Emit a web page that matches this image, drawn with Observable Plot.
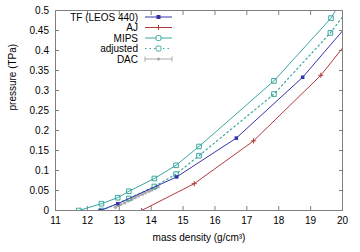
<!DOCTYPE html>
<html><head><meta charset="utf-8">
<script src="https://cdn.jsdelivr.net/npm/d3@7"></script>
<script src="https://cdn.jsdelivr.net/npm/@observablehq/plot@0.6"></script>
<style>
html,body{margin:0;padding:0;background:#fff;}
#wrap{position:relative;width:360px;height:252px;}
#wrap svg{display:block;}
#legend{position:absolute;left:0;top:0;}
</style></head><body><div id="wrap"></div>
<script>
const seriesNames = ["TF (LEOS 440)", "AJ", "MIPS", "adjusted", "DAC"];
const seriesColors = ["#3434a8", "#b03a3a", "#3aa8a0", "#3aa8a0", "#aaaaaa"];

const tfX = [12.4, 12.95, 14.8, 16.67, 18.75, 20.0];
const tfY = [0, 0.017, 0.084, 0.181, 0.333, 0.449];

const ajX = [13.7, 15.35, 17.21, 19.32, 20.0];
const ajY = [0, 0.067, 0.174, 0.338, 0.406];

const mipsX = [11.73, 12.44, 12.95, 13.3, 14.1, 14.78, 15.5, 17.85, 19.64, 20.0];
const mipsY = [0, 0.017, 0.032, 0.048, 0.080, 0.113, 0.160, 0.324, 0.481, 0.53];

const adjX = [12.45, 13.3, 14.1, 14.78, 15.5, 17.85, 19.62, 20.0];
const adjY = [0, 0.030, 0.060, 0.091, 0.137, 0.291, 0.444, 0.484];

const dacX = [12.88, 12.97, 13.05, 13.17, 13.28, 13.4, 13.5, 13.6, 13.72, 13.82, 13.93, 14.02, 14.12, 14.22];
const dacY = [0.008, 0.012, 0.015, 0.019, 0.024, 0.028, 0.032, 0.036, 0.040, 0.044, 0.048, 0.051, 0.055, 0.059];
const dacErr = [0.05, 0.05, 0.05, 0.05, 0.05, 0.05, 0.05, 0.05, 0.05, 0.05, 0.05, 0.05, 0.05, 0.05];

const xTicks = [11, 12, 13, 14, 15, 16, 17, 18, 19, 20];
const yTicks = [0, 0.05, 0.1, 0.15, 0.2, 0.25, 0.3, 0.35, 0.4, 0.45, 0.5];
const xTitle = "mass density (g/cm³)";
const yTitle = "pressure (TPa)";

const rows = (xs, ys) => xs.map((x, i) => ({x, y: ys[i]}));
const tf = rows(tfX, tfY), aj = rows(ajX, ajY), mips = rows(mipsX, mipsY), adj = rows(adjX, adjY);
const dac = dacX.map((x, i) => ({x, y: dacY[i], e: dacErr[i]}));
// markers are not drawn on the border (gnuplot clips them)
const inner = d => d.x < 20;

const font = "'Liberation Sans', Arial, sans-serif";
const axisGray = "#808080";

const plot = Plot.plot({
  width: 360, height: 252,
  marginLeft: 55, marginRight: 18, marginTop: 10, marginBottom: 42,
  style: {fontFamily: font, fontSize: "10px", background: "#fff", color: "#000"},
  x: {domain: [11, 20]},
  y: {domain: [0, 0.5]},
  marks: [
    // tick labels
    Plot.text(xTicks, {x: d => d, frameAnchor: "bottom", lineAnchor: "middle", dy: 10, fontSize: 10, fill: "#000"}),
    Plot.text(yTicks, {y: d => d, text: d => String(d), frameAnchor: "left", textAnchor: "end", dx: -6.5, fontSize: 10, fill: "#000"}),
    // inward ticks on all four sides
    Plot.axisX(xTicks, {anchor: "bottom", tickSize: -4, tickFormat: () => "", stroke: axisGray, label: null}),
    Plot.axisX(xTicks, {anchor: "top", tickSize: -4, tickFormat: () => "", stroke: axisGray, label: null}),
    Plot.axisY(yTicks, {anchor: "left", tickSize: -4, tickFormat: () => "", stroke: axisGray, label: null}),
    Plot.axisY(yTicks, {anchor: "right", tickSize: -4, tickFormat: () => "", stroke: axisGray, label: null}),
    Plot.ruleY(dac, {y: "y", x1: d => d.x - d.e, x2: d => d.x + d.e, stroke: seriesColors[4], strokeWidth: 1}),
    Plot.line(dac, {x: "x", y: "y", stroke: seriesColors[4], strokeWidth: 1}),
    Plot.dot(dac, {x: "x", y: "y", r: 1.6, fill: seriesColors[4]}),
    Plot.line(aj, {x: "x", y: "y", stroke: seriesColors[1], strokeWidth: 1, clip: true}),
    Plot.dot(aj, {filter: inner, x: "x", y: "y", symbol: "plus", r: 1.8, stroke: seriesColors[1], strokeWidth: 1, clip: true}),
    Plot.line(adj, {x: "x", y: "y", stroke: seriesColors[3], strokeWidth: 1.2, strokeDasharray: "1.5,3", clip: true}),
    Plot.dot(adj, {filter: inner, x: "x", y: "y", symbol: "square", r: 2.6, stroke: seriesColors[3], fill: "none", strokeWidth: 1, clip: true}),
    Plot.line(mips, {x: "x", y: "y", stroke: seriesColors[2], strokeWidth: 1, clip: true}),
    Plot.dot(mips, {filter: inner, x: "x", y: "y", symbol: "square", r: 2.6, stroke: seriesColors[2], fill: "none", strokeWidth: 1, clip: true}),
    Plot.line(tf, {x: "x", y: "y", stroke: seriesColors[0], strokeWidth: 1, clip: true}),
    Plot.dot(tf, {filter: inner, x: "x", y: "y", symbol: "square", r: 2.0, fill: seriesColors[0], clip: true}),
    Plot.frame({stroke: axisGray, strokeWidth: 1}),
    Plot.text([xTitle], {frameAnchor: "bottom", lineAnchor: "middle", dy: 27, fontSize: 10, fill: "#000"}),
    Plot.text([yTitle], {frameAnchor: "left", rotate: -90, dx: -43, fontSize: 10, fill: "#000"})
  ]
});

const wrap = document.getElementById("wrap");
wrap.appendChild(plot);

// legend (gnuplot-style, inside plot, top-left)
const leg = d3.select(wrap).append("svg").attr("id", "legend")
  .attr("width", 360).attr("height", 252)
  .style("font-family", font).style("font-size", "10px");
seriesNames.forEach((name, i) => {
  const cy = 17 + i * 10.5;
  const c = seriesColors[i];
  const g = leg.append("g");
  g.append("text").attr("x", 138).attr("y", cy).attr("dy", "0.35em")
    .attr("text-anchor", "end").attr("fill", "#000").text(name);
  g.append("line").attr("x1", 145).attr("x2", 172).attr("y1", cy).attr("y2", cy)
    .attr("stroke", c).attr("stroke-width", i === 3 ? 1.2 : 1)
    .attr("stroke-dasharray", i === 3 ? "1.5,3" : null);
  const mx = 158.5;
  if (i === 0) {
    g.append("rect").attr("x", mx - 2).attr("y", cy - 2).attr("width", 4).attr("height", 4).attr("fill", c);
  } else if (i === 1) {
    g.append("path").attr("d", `M${mx - 2.5},${cy}H${mx + 2.5}M${mx},${cy - 2.5}V${cy + 2.5}`).attr("stroke", c);
  } else if (i === 2 || i === 3) {
    g.append("rect").attr("x", mx - 2.5).attr("y", cy - 2.5).attr("width", 5).attr("height", 5)
      .attr("rx", 1.5).attr("fill", "#fff").attr("stroke", c);
  } else {
    g.append("circle").attr("cx", mx).attr("cy", cy).attr("r", 1.6).attr("fill", c);
    g.append("path").attr("d", `M145,${cy - 2.5}V${cy + 2.5}M172,${cy - 2.5}V${cy + 2.5}`).attr("stroke", c);
  }
});
</script>
</body></html>
